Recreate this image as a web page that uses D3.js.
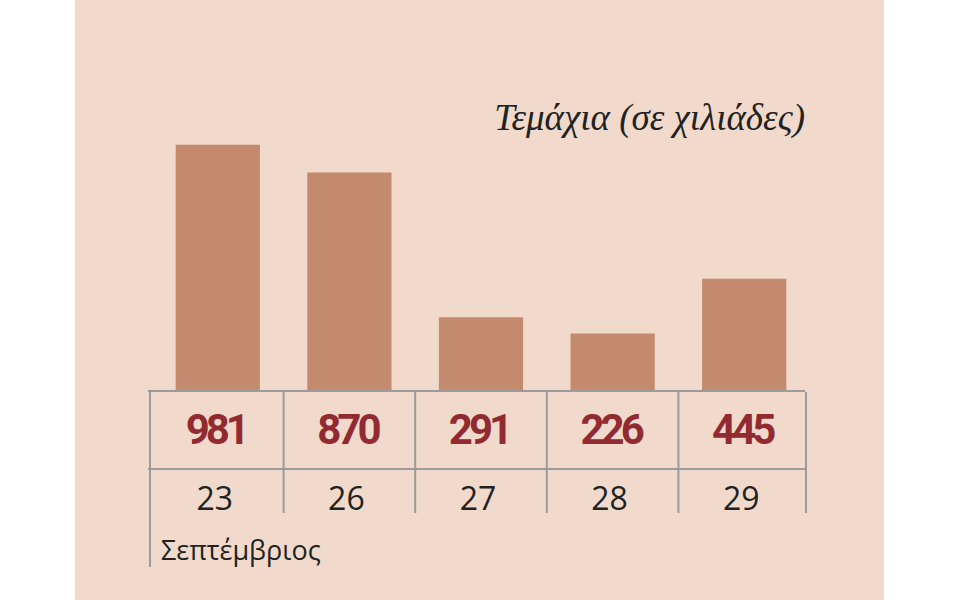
<!DOCTYPE html>
<html><head><meta charset="utf-8">
<script src="https://cdn.jsdelivr.net/npm/d3@7"></script>
<style>body{margin:0;background:#fff}</style>
</head><body>
<svg id="chart" width="960" height="600"></svg>
<script>
const days = ["23", "26", "27", "28", "29"];
const values = [981, 870, 291, 226, 445];
const unitLabel = "Τεμάχια (σε χιλιάδες)";
const monthLabel = "Σεπτέμβριος";

const svg = d3.select("#chart");
svg.append("rect").attr("x", 75).attr("y", 0).attr("width", 809).attr("height", 600).attr("fill", "#f1dacb");

const x = d3.scaleBand().domain(days).range([152, 810]).paddingInner(0.36).paddingOuter(0.18);
const y = d3.scaleLinear().domain([0, 1000]).range([390, 140]);
const lineCol = "#9c9a9a";

svg.append("g").selectAll("rect").data(values).join("rect")
  .attr("x", (d, i) => x(days[i]))
  .attr("width", x.bandwidth())
  .attr("y", d => y(d))
  .attr("height", d => y(0) - y(d))
  .attr("fill", "#c48a6e");

svg.append("text").attr("x", 805).attr("y", 130).attr("text-anchor", "end")
  .attr("font-family", "Liberation Serif, serif").attr("font-style", "italic")
  .attr("font-size", 37).attr("fill", "#222").text(unitLabel);

// table lines
[391, 469].forEach(yy => svg.append("line").attr("x1", 148).attr("x2", 805).attr("y1", yy).attr("y2", yy)
  .attr("stroke", lineCol).attr("stroke-width", 2));
const step = x.step();
const dividers = days.slice(1).map(d => x(d) - step * x.paddingInner() / 2);
dividers.concat([806]).forEach(xx => svg.append("line").attr("x1", xx).attr("x2", xx).attr("y1", 392).attr("y2", 513)
  .attr("stroke", lineCol).attr("stroke-width", 2));
svg.append("line").attr("x1", 150).attr("x2", 150).attr("y1", 392).attr("y2", 567).attr("stroke", lineCol).attr("stroke-width", 2);

svg.append("g").selectAll("text").data(values).join("text")
  .attr("x", (d, i) => x(days[i]) + x.bandwidth() / 2 - 2)
  .attr("y", 444).attr("text-anchor", "middle")
  .attr("font-family", "Roboto, sans-serif").attr("font-weight", 700)
  .attr("font-size", 42).attr("letter-spacing", -4).attr("fill", "#922a31")
  .text(d => d);

svg.append("g").selectAll("text").data(days).join("text")
  .attr("x", d => x(d) + x.bandwidth() / 2 - 3)
  .attr("y", 510).attr("text-anchor", "middle")
  .attr("font-family", "Open Sans, sans-serif").attr("font-size", 32).attr("fill", "#222")
  .text(d => d);

svg.append("text").attr("x", 161).attr("y", 560)
  .attr("font-family", "Open Sans, sans-serif").attr("font-size", 27).attr("fill", "#222").text(monthLabel);
</script>
</body></html>
